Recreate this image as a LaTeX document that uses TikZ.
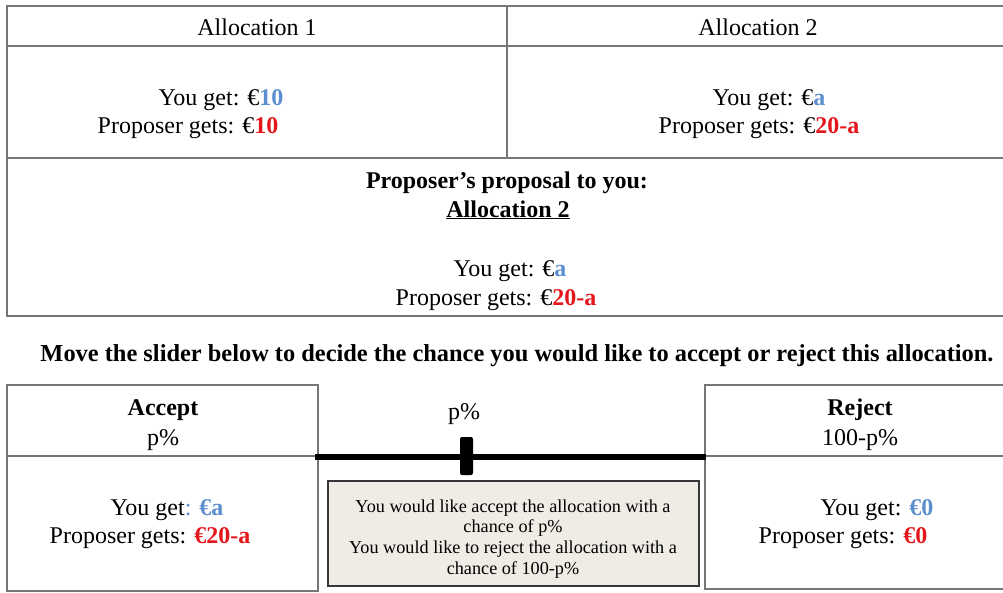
\documentclass[tikz,border=0pt]{standalone}
\usepackage{fontspec}
\setmainfont{Liberation Serif}
\definecolor{myblue}{RGB}{91,143,208}
\definecolor{myred}{RGB}{228,22,28}
\definecolor{grid}{RGB}{118,118,118}
\definecolor{infofill}{RGB}{238,236,228}
\definecolor{infoline}{RGB}{55,55,55}
\newcommand{\bl}[1]{\textcolor{myblue}{\textbf{#1}}}
\newcommand{\rd}[1]{\textcolor{myred}{\textbf{#1}}}
\begin{document}
\begin{tikzpicture}[x=1pt,y=-1pt,
  txt/.style={anchor=base,inner sep=0pt,font=\fontsize{24}{29}\selectfont},
  small/.style={anchor=base,inner sep=0pt,font=\fontsize{18.2}{21}\selectfont},
  gridline/.style={draw=grid,line width=1.8pt}]
\useasboundingbox (0,0) rectangle (1003,592);
% top table
\draw[gridline] (1003,6) -- (7,6) -- (7,316) -- (1003,316);
\draw[gridline] (7,46) -- (1003,46);
\draw[gridline] (7,158) -- (1003,158);
\draw[gridline] (507,6) -- (507,158);
\node[txt] (h1) at (257,35) {Allocation 1};
\node[txt] (h2) at (758,35) {Allocation 2};
\node[txt] (a1y) at (221,105) {You get: €\bl{10}};
\node[txt] (a1p) at (188,133) {Proposer gets: €\rd{10}};
\node[txt] (a2y) at (769,105) {You get: €\bl{a}};
\node[txt] (a2p) at (759,133) {Proposer gets: €\rd{20-a}};
\node[txt] (pt) at (507,188) {\textbf{Proposer’s proposal to you:}};
\node[txt] (pa) at (508,217) {\textbf{\underline{Allocation 2}}};
\node[txt] (py) at (510,276) {You get: €\bl{a}};
\node[txt] (pp) at (496,305) {Proposer gets: €\rd{20-a}};
% instruction
\node[txt,font=\fontsize{24.4}{29}\selectfont] (ins) at (517,361) {\textbf{Move the slider below to decide the chance you would like to accept or reject this allocation.}};
% accept box
\draw[gridline] (7,385) rectangle (318,591);
\draw[gridline] (7,456) -- (318,456);
\node[txt] (acc) at (163,415) {\textbf{Accept}};
\node[txt] (accp) at (163,445) {p\%};
\node[txt] (accy) at (167,515) {You get\textcolor{myblue}{: \textbf{€a}}};
\node[txt] (accpp) at (150,543) {Proposer gets: \rd{€20-a}};
% reject box
\draw[gridline] (1003,385) -- (705,385) -- (705,589) -- (1003,589);
\draw[gridline] (705,456) -- (1003,456);
\node[txt] (rej) at (860,415) {\textbf{Reject}};
\node[txt] (rejp) at (860,445) {100-p\%};
\node[txt] (rejy) at (877,515) {You get: \bl{€0}};
\node[txt] (rejpp) at (843,543) {Proposer gets: \rd{€0}};
% slider
\coordinate (s0) at (315,457);
\coordinate (s1) at (706,457);
\draw[line width=6pt] (s0) -- (s1);
\node[draw=none,fill=black,rounded corners=2pt,minimum width=13pt,minimum height=38pt,inner sep=0pt] (handle) at (466.5,456) {};
\node[txt] (sp) at (464,419) {p\%};
% info box
\node[draw=infoline,fill=infofill,line width=1.2pt,minimum width=371pt,minimum height=105pt,inner sep=0pt] (info) at (513.5,533.5) {};
\node[small] (i1) at (513,512) {You would like accept the allocation with a};
\node[small] (i2) at (513,532) {chance of p\%};
\node[small] (i3) at (513,553) {You would like to reject the allocation with a};
\node[small] (i4) at (513,574) {chance of 100-p\%};
\end{tikzpicture}
\end{document}
